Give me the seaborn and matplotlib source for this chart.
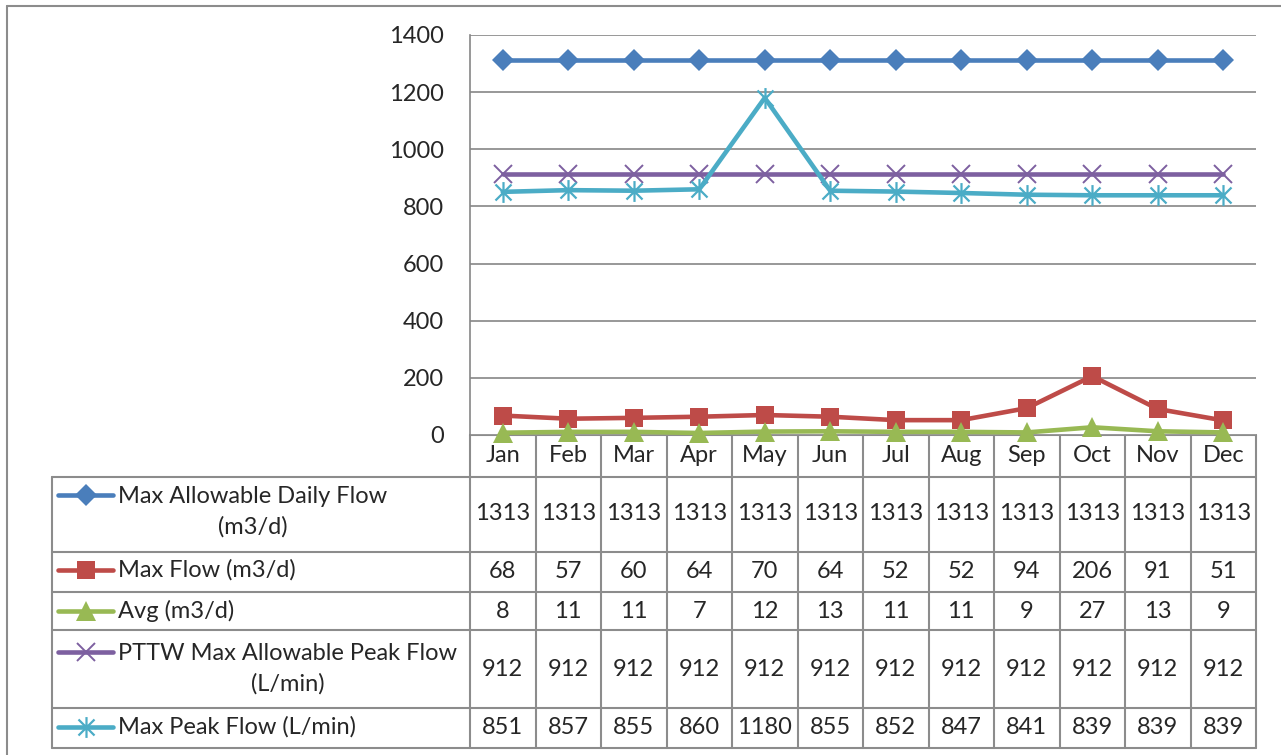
import numpy as np
import pandas as pd
import matplotlib.pyplot as plt
import seaborn as sns
from matplotlib.path import Path

months = ['Jan', 'Feb', 'Mar', 'Apr', 'May', 'Jun', 'Jul', 'Aug', 'Sep', 'Oct', 'Nov', 'Dec']
max_allow_daily = [1313, 1313, 1313, 1313, 1313, 1313, 1313, 1313, 1313, 1313, 1313, 1313]
max_flow = [68, 57, 60, 64, 70, 64, 52, 52, 94, 206, 91, 51]
avg_flow = [8, 11, 11, 7, 12, 13, 11, 11, 9, 27, 13, 9]
pttw_peak = [912, 912, 912, 912, 912, 912, 912, 912, 912, 912, 912, 912]
max_peak = [851, 857, 855, 860, 1180, 855, 852, 847, 841, 839, 839, 839]
labels = ['Max Allowable Daily Flow\n(m3/d)', 'Max Flow (m3/d)', 'Avg (m3/d)',
          'PTTW Max Allowable Peak Flow\n(L/min)', 'Max Peak Flow (L/min)']

sns.set_style('white')
plt.rcParams['font.family'] = ['Lato', 'DejaVu Sans']
fs = 17

# asterisk marker like Excel's "star" (x plus vertical bar)
star = Path([(-1, -1), (1, 1), (-1, 1), (1, -1), (0, -1.3), (0, 1.3)],
            [Path.MOVETO, Path.LINETO, Path.MOVETO, Path.LINETO, Path.MOVETO, Path.LINETO])

styles = [
    dict(color='#4A7EBB', marker='D', ms=11, mew=0),
    dict(color='#BE4B48', marker='s', ms=13, mew=0),
    dict(color='#98B954', marker='^', ms=15, mew=0),
    dict(color='#7D60A0', marker='x', ms=13, mew=1.4),
    dict(color='#4BACC6', marker=star, ms=15, mew=1.6),
]
series = [max_allow_daily, max_flow, avg_flow, pttw_peak, max_peak]

W, H = 1281, 755
fig = plt.figure(figsize=(W / 100, H / 100), dpi=100)
ax = fig.add_axes([470 / W, 1 - 435 / H, 786 / W, 400 / H])

df = pd.DataFrame({'month': months, 'x': np.arange(len(months))})
for vals, st in zip(series, styles):
    df['y'] = vals
    sns.lineplot(data=df, x='x', y='y', ax=ax, color=st['color'], lw=3.3,
                 marker=st['marker'], markersize=st['ms'], markeredgewidth=st['mew'],
                 markeredgecolor=st['color'], clip_on=False, zorder=3)

ax.set_xlim(-0.5, len(months) - 0.5)
ax.set_ylim(0, 1400)
ax.set_yticks(np.arange(0, 1401, 200))
ax.set_xticks([])
ax.set_xlabel('')
ax.set_ylabel('')
ax.tick_params(axis='y', length=0, pad=19, labelsize=fs)
ax.grid(axis='y', color='#868686', lw=1.2)
for s in ['top', 'right', 'bottom']:
    ax.spines[s].set_visible(False)
ax.spines['left'].set_color('#868686')
ax.spines['left'].set_linewidth(1.2)

# data table drawn in figure pixel coordinates
tab = fig.add_axes([0, 0, 1, 1], zorder=-1)
tab.set_xlim(0, W)
tab.set_ylim(H, 0)
tab.axis('off')

gc = '#8C8C8C'
edges = 470 + 65.5 * np.arange(len(months) + 1)
centers = (edges[:-1] + edges[1:]) / 2
rows = [435, 477, 552, 592, 630, 708, 748]
tab.plot([edges[0], edges[-1]], [rows[0], rows[0]], color=gc, lw=1.5)
for r in rows[1:]:
    tab.plot([52, edges[-1]], [r, r], color=gc, lw=1.5)
tab.plot([52, 52], [rows[1], rows[-1]], color=gc, lw=1.5)
for e in edges:
    tab.plot([e, e], [rows[0], rows[-1]], color=gc, lw=1.5)

# outer chart border
tab.plot([7, W], [6, 6], color=gc, lw=1.5)
tab.plot([7, 7], [6, H], color=gc, lw=1.5)

for c, m in zip(centers, months):
    tab.text(c, 456, m, ha='center', va='center', fontsize=fs)

key_y = [495, 570, 611, 652, 727]
text_y = [512, 570, 611, 669, 727]
val_y = [513, 571, 611, 669, 727]
for i, (vals, st, lab) in enumerate(zip(series, styles, labels)):
    ky = key_y[i]
    tab.plot([58, 113], [ky, ky], color=st['color'], lw=3.3, solid_capstyle='round')
    tab.plot([86], [ky], marker=st['marker'], color=st['color'], markersize=st['ms'],
             markeredgewidth=st['mew'], markeredgecolor=st['color'])
    tab.text(118, text_y[i], lab, ha='left', va='center', multialignment='center',
             fontsize=fs, linespacing=1.55)
    for c, v in zip(centers, vals):
        tab.text(c, val_y[i], str(v), ha='center', va='center', fontsize=fs)

plt.savefig('out.png', dpi=100)
